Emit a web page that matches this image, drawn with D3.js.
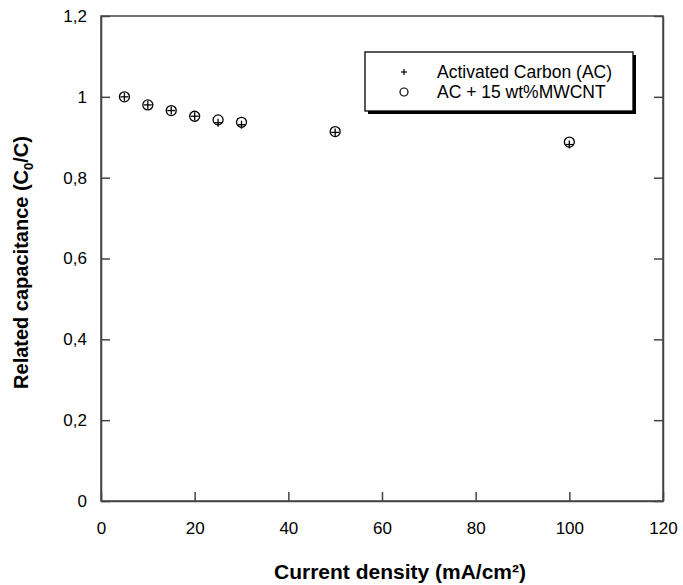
<!DOCTYPE html>
<html>
<head>
<meta charset="utf-8">
<script src="https://cdn.jsdelivr.net/npm/d3@7"></script>
<style>
  body { margin: 0; background: #fff; }
  text { font-family: 'Liberation Sans', Arial, sans-serif; }
</style>
</head>
<body>
<div id="root"></div>
<script>
const currentDensity = [5, 10, 15, 20, 25, 30, 50, 100];
const acValues = [1.0, 0.98, 0.966, 0.952, 0.936, 0.931, 0.912, 0.882];
const mwcntValues = [1.0, 0.98, 0.966, 0.952, 0.943, 0.937, 0.914, 0.888];
const xTicks = [0, 20, 40, 60, 80, 100, 120];
const yTicks = [0, 0.2, 0.4, 0.6, 0.8, 1, 1.2];
const legendLabels = ['Activated Carbon (AC)', 'AC + 15 wt%MWCNT'];

const width = 683;
const height = 585;
const margin = { top: 16, right: 20, bottom: 84, left: 101 };
const axisColor = '#444';

const svg = d3.select('#root').append('svg')
  .attr('width', width)
  .attr('height', height);

const chartWidth = width - margin.left - margin.right;
const chartHeight = height - margin.top - margin.bottom;

const chart = svg.append('g')
  .attr('transform', `translate(${margin.left}, ${margin.top})`);

const xScale = d3.scaleLinear().domain([0, 120]).range([0, chartWidth]);
const yScale = d3.scaleLinear().domain([0, 1.2]).range([chartHeight, 0]);

const fmt = d => String(+d.toFixed(1)).replace('.', ',');

// bottom axis, ticks pointing inward
chart.append('g')
  .attr('transform', `translate(0, ${chartHeight})`)
  .call(d3.axisBottom(xScale).tickValues(xTicks).tickSize(-9).tickPadding(21).tickSizeOuter(0))
  .call(g => g.selectAll('text').attr('font-size', 17).attr('fill', '#000'));

chart.append('g')
  .call(d3.axisLeft(yScale).tickValues(yTicks).tickSize(-9).tickPadding(14).tickFormat(fmt).tickSizeOuter(0))
  .call(g => g.selectAll('text').attr('font-size', 17).attr('fill', '#000'));

chart.append('g')
  .attr('transform', `translate(${chartWidth}, 0)`)
  .call(d3.axisRight(yScale).tickValues(yTicks).tickSize(-9).tickFormat('').tickSizeOuter(0));

chart.selectAll('.domain, .tick line')
  .attr('stroke', axisColor)
  .attr('stroke-width', 1.5);

// frame
chart.append('rect')
  .attr('width', chartWidth)
  .attr('height', chartHeight)
  .attr('fill', 'none')
  .attr('stroke', axisColor)
  .attr('stroke-width', 1.5);

// markers
const points = currentDensity.map((x, i) => ({ x, ac: acValues[i], cnt: mwcntValues[i] }));

chart.selectAll('circle.cnt')
  .data(points)
  .enter()
  .append('circle')
  .attr('class', 'cnt')
  .attr('cx', d => xScale(d.x))
  .attr('cy', d => yScale(d.cnt))
  .attr('r', 5)
  .attr('fill', 'none')
  .attr('stroke', '#000')
  .attr('stroke-width', 1.3);

chart.selectAll('g.ac')
  .data(points)
  .enter()
  .append('g')
  .attr('class', 'ac')
  .attr('transform', d => `translate(${xScale(d.x)}, ${yScale(d.ac)})`)
  .call(g => g.append('line').attr('x1', -4).attr('x2', 4))
  .call(g => g.append('line').attr('y1', -4).attr('y2', 4))
  .selectAll('line')
  .attr('stroke', '#000')
  .attr('stroke-width', 1.3);

// legend
const legend = svg.append('g')
  .attr('transform', 'translate(365, 52)');

legend.append('rect')
  .attr('x', 3).attr('y', 3)
  .attr('width', 268).attr('height', 59)
  .attr('fill', '#000');

legend.append('rect')
  .attr('width', 268).attr('height', 59)
  .attr('fill', '#fff')
  .attr('stroke', '#000')
  .attr('stroke-width', 1.3);

legend.append('g')
  .attr('transform', 'translate(39, 20)')
  .call(g => g.append('line').attr('x1', -3).attr('x2', 3))
  .call(g => g.append('line').attr('y1', -3).attr('y2', 3))
  .selectAll('line')
  .attr('stroke', '#000')
  .attr('stroke-width', 1.2);

legend.append('circle')
  .attr('cx', 39).attr('cy', 40).attr('r', 4)
  .attr('fill', 'none')
  .attr('stroke', '#000')
  .attr('stroke-width', 1.2);

legend.selectAll('text')
  .data(legendLabels)
  .enter()
  .append('text')
  .attr('x', 72)
  .attr('y', (d, i) => 26 + i * 20)
  .attr('font-size', 17.5)
  .text(d => d);

// axis titles
svg.append('text')
  .attr('x', 400)
  .attr('y', 579)
  .attr('text-anchor', 'middle')
  .attr('font-size', 21)
  .attr('font-weight', 'bold')
  .text('Current density (mA/cm²)');

const yTitle = svg.append('text')
  .attr('transform', `translate(28, ${margin.top + chartHeight / 2 + 4}) rotate(-90)`)
  .attr('text-anchor', 'middle')
  .attr('font-size', 20)
  .attr('font-weight', 'bold');
yTitle.append('tspan').text('Related capacitance (C');
yTitle.append('tspan').attr('dy', 5).attr('font-size', 13).text('0');
yTitle.append('tspan').attr('dy', -5).text('/C)');
</script>
</body>
</html>
